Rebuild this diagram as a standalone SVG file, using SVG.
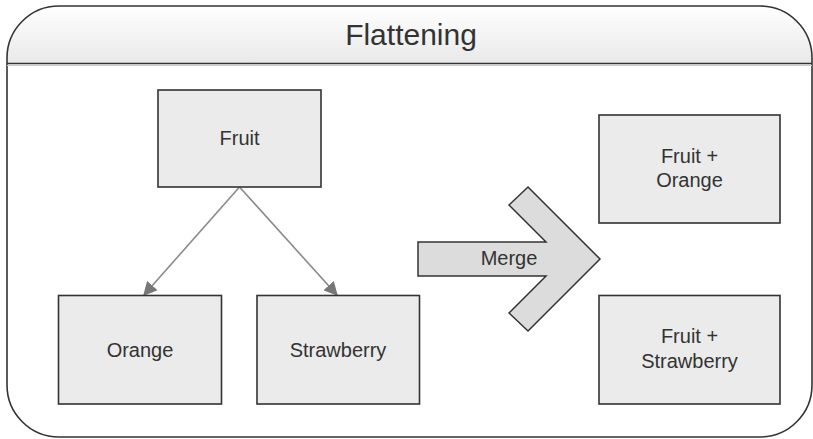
<svg xmlns="http://www.w3.org/2000/svg" width="813" height="439" viewBox="0 0 813 439">
  <style>
    .box { fill: #ebebeb; stroke: #333333; stroke-width: 1.6; }
    .lbl { font-family: "Liberation Sans", Arial, sans-serif; font-size: 20px; fill: #333333; text-anchor: middle; }
    .title { font-family: "Liberation Sans", Arial, sans-serif; font-size: 30px; fill: #333333; text-anchor: middle; }
    .conn { stroke: #8a8a8a; stroke-width: 1.6; fill: none; }
  </style>
  <defs>
    <linearGradient id="hdr" x1="0" y1="0" x2="0" y2="1">
      <stop offset="0" stop-color="#ffffff"/>
      <stop offset="1" stop-color="#e9e9e9"/>
    </linearGradient>
    <marker id="ah" viewBox="0 0 10 10" refX="9" refY="5" markerWidth="14" markerHeight="14" markerUnits="userSpaceOnUse" orient="auto">
      <path d="M0,0 L10,5 L0,10 Z" fill="#777777"/>
    </marker>
  </defs>

  <g id="frame">
    <path d="M7,63 V58 A52,52 0 0 1 59,6 H760 A52,52 0 0 1 812,58 V63 Z" fill="url(#hdr)"/>
    <path d="M7,58 A52,52 0 0 1 59,6 H760 A52,52 0 0 1 812,58 V385 A52,52 0 0 1 760,437 H59 A52,52 0 0 1 7,385 Z" fill="none" stroke="#333333" stroke-width="1.6"/>
    <line x1="7" y1="63.5" x2="812" y2="63.5" stroke="#333333" stroke-width="1.6"/>
    <line x1="7" y1="65.5" x2="812" y2="65.5" stroke="#cccccc" stroke-width="1"/>
    <text class="title" x="411" y="45">Flattening</text>
  </g>

  <g id="connectors">
    <line class="conn" x1="239.5" y1="187" x2="144" y2="295" marker-end="url(#ah)"/>
    <line class="conn" x1="239.5" y1="187" x2="337" y2="295" marker-end="url(#ah)"/>
  </g>

  <g id="fruit">
    <rect class="box" x="158" y="90" width="163" height="97"/>
    <text class="lbl" x="239.5" y="145">Fruit</text>
  </g>

  <g id="orange">
    <rect class="box" x="58.5" y="295.5" width="163" height="108.5"/>
    <text class="lbl" x="140" y="357">Orange</text>
  </g>

  <g id="strawberry">
    <rect class="box" x="257" y="295.5" width="162.5" height="108.5"/>
    <text class="lbl" x="338" y="357">Strawberry</text>
  </g>

  <g id="merge">
    <path d="M418,242 H546 L509,205 L528,187 L600,259 L528,331 L509,313 L546,276 H418 Z" fill="#dcdcdc" stroke="#333333" stroke-width="1.5" stroke-linejoin="miter"/>
    <text class="lbl" x="509" y="265">Merge</text>
  </g>

  <g id="fruit-orange">
    <rect class="box" x="599" y="115" width="181" height="108"/>
    <text class="lbl" x="689.5" y="163">Fruit +</text>
    <text class="lbl" x="689.5" y="187">Orange</text>
  </g>

  <g id="fruit-strawberry">
    <rect class="box" x="599" y="295.5" width="181" height="108.5"/>
    <text class="lbl" x="689.5" y="343">Fruit +</text>
    <text class="lbl" x="689.5" y="368">Strawberry</text>
  </g>
</svg>
